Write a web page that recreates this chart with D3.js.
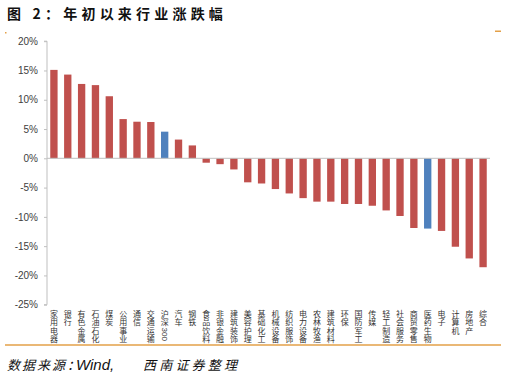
<!DOCTYPE html>
<html>
<head>
<meta charset="utf-8">
<script src="https://cdn.jsdelivr.net/npm/d3@7"></script>
<style>
body { margin: 0; background: #fff; }
svg { display: block; }
</style>
</head>
<body>
<svg class="chart" width="507" height="376"></svg>
<script>
const categories = ["家用电器", "银行", "有色金属", "石油石化", "煤炭", "公用事业", "通信", "交通运输", "沪深300",
    "汽车", "钢铁", "食品饮料", "非银金融", "建筑装饰", "美容护理", "基础化工", "机械设备", "纺织服饰",
    "电力设备", "农林牧渔", "建筑材料", "环保", "国防军工", "传媒", "轻工制造", "社会服务", "商贸零售",
    "医药生物", "电子", "计算机", "房地产", "综合"];
const values = [15.1, 14.3, 12.7, 12.5, 10.6, 6.7, 6.25, 6.2, 4.55,
    3.2, 2.2, -0.75, -1.0, -1.9, -4.1, -4.3, -5.25, -6.0,
    -6.8, -7.4, -7.4, -7.8, -7.8, -8.1, -8.9, -9.85, -11.9,
    -12.0, -12.4, -15.1, -17.1, -18.6];
const highlighted = ["沪深300", "医药生物"];
const yTicks = [20, 15, 10, 5, 0, -5, -10, -15, -20, -25];

const RED = "#C0504D";
const BLUE = "#4F81BD";
const ORANGE = "#E3A048";
const CJK = "'Noto Sans CJK SC', sans-serif";
const LATIN = "Arial, 'Liberation Sans', sans-serif";

const svg = d3.select(".chart");
const data = categories.map((c, i) => ({ name: c, value: values[i] }));

const xScale = d3.scaleBand()
    .domain(categories)
    .range([47, 490])
    .paddingInner(0.47)
    .paddingOuter(0.235);

const yScale = d3.scaleLinear()
    .domain([-25, 20])
    .range([304.7, 41.2]);

// title
svg.append("text")
    .attr("x", 7)
    .attr("y", 19)
    .text("图 2：年初以来行业涨跌幅")
    .style("font-family", CJK)
    .style("font-size", "14px")
    .style("font-weight", "bold")
    .style("letter-spacing", "4.2px")
    .style("fill", "#111");

// little orange marks of the header
svg.append("rect").attr("x", 5).attr("y", 32).attr("width", 1.5).attr("height", 1.5).style("fill", ORANGE);
svg.append("rect").attr("x", 495).attr("y", 30.5).attr("width", 6).attr("height", 1.5).style("fill", ORANGE);

// y axis
const yAxis = svg.append("g")
    .attr("transform", "translate(47,0)")
    .call(d3.axisLeft(yScale)
        .tickValues(yTicks)
        .tickSize(3)
        .tickPadding(6)
        .tickFormat(d => d + "%"));
yAxis.select(".domain").attr("stroke", "#bfbfbf").attr("d", `M-3,${yScale(20)}H0V${yScale(-25)}H-3`);
yAxis.selectAll(".tick line").attr("stroke", "#bfbfbf");
yAxis.selectAll(".tick text")
    .style("font-family", LATIN)
    .style("font-size", "10px")
    .style("fill", "#404040");

// bars
svg.append("g")
    .selectAll("rect")
    .data(data)
    .enter()
    .append("rect")
    .attr("x", d => xScale(d.name))
    .attr("width", xScale.bandwidth())
    .attr("y", d => yScale(Math.max(0, d.value)))
    .attr("height", d => Math.abs(yScale(d.value) - yScale(0)))
    .style("fill", d => highlighted.includes(d.name) ? BLUE : RED);

// zero line
svg.append("line")
    .attr("x1", 47)
    .attr("x2", 490)
    .attr("y1", yScale(0))
    .attr("y2", yScale(0))
    .attr("stroke", "#bfbfbf")
    .attr("stroke-width", 1);

// category labels, one char under the other; digits turned sideways
const labels = svg.append("g")
    .selectAll("text")
    .data(data)
    .enter()
    .append("text")
    .style("font-family", CJK)
    .style("font-size", "8px")
    .style("fill", "#333");

labels.each(function (d) {
    const t = d3.select(this);
    const cx = xScale(d.name) + xScale.bandwidth() / 2;
    let y = 317;
    for (const ch of d.name) {
        if (/[0-9]/.test(ch)) {
            t.append("tspan")
                .attr("x", cx - 2.9)
                .attr("y", y - 6)
                .attr("rotate", 90)
                .style("font-family", LATIN)
                .text(ch);
            y += 4.45;
        } else {
            t.append("tspan")
                .attr("x", cx)
                .attr("y", y)
                .attr("text-anchor", "middle")
                .text(ch);
            y += 8.3;
        }
    }
});

// bottom rule and source
svg.append("line")
    .attr("x1", 5)
    .attr("x2", 501)
    .attr("y1", 345)
    .attr("y2", 345)
    .attr("stroke", ORANGE)
    .attr("stroke-width", 1.5);

const source = svg.append("text")
    .attr("x", 7)
    .attr("y", 370)
    .style("font-style", "italic")
    .style("font-family", CJK)
    .style("font-size", "13px")
    .style("fill", "#111");
source.append("tspan")
    .style("letter-spacing", "2px")
    .text("数据来源：");
source.append("tspan")
    .attr("x", 76)
    .style("font-family", LATIN)
    .style("font-size", "15px")
    .text("Wind,");
source.append("tspan")
    .attr("x", 143)
    .style("letter-spacing", "3.2px")
    .text("西南证券整理");
</script>
</body>
</html>
